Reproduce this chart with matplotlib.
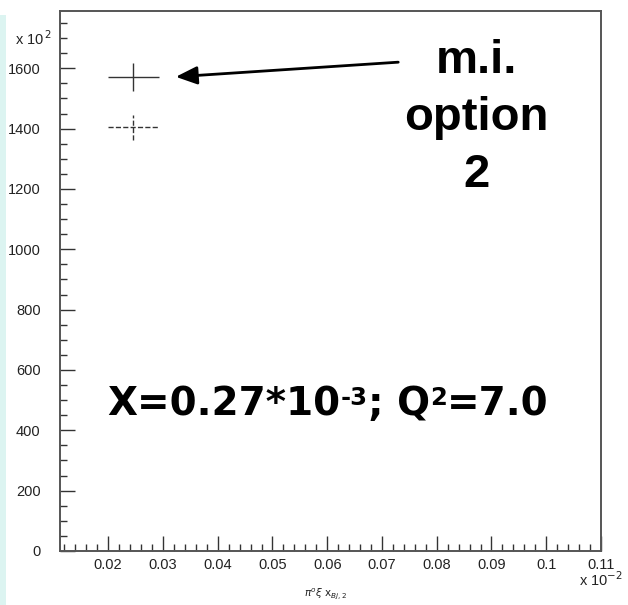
import matplotlib
matplotlib.use("Agg")
import matplotlib.pyplot as plt
from matplotlib.ticker import MultipleLocator, FixedLocator
import matplotlib.patches as mpatches

# data
x_vals = [0.0246, 0.0246]
x_err = [0.0046, 0.0046]
y_vals = [1570, 1404]
y_err = [46, 41]
line_styles = ["-", "--"]
xticks = [0.02, 0.03, 0.04, 0.05, 0.06, 0.07, 0.08, 0.09, 0.10, 0.11]
xtick_labels = ["0.02", "0.03", "0.04", "0.05", "0.06", "0.07", "0.08", "0.09", "0.1", "0.11"]
yticks = [0, 200, 400, 600, 800, 1000, 1200, 1400, 1600]
ytick_labels = [str(v) for v in yticks]
big_label_parts = [("X=0.27*10", False), ("-3", True), ("; Q", False), ("2", True), ("=7.0", False)]

plt.rcParams['font.family'] = ['Liberation Sans', 'DejaVu Sans']

W, H = 628, 605
fig = plt.figure(figsize=(W/100, H/100), dpi=100)
# left cyan strip
fig.patches.append(mpatches.Rectangle((0, 0), 6/W, 1 - 15/H, transform=fig.transFigure,
                                      facecolor='#dcf4f1', edgecolor='none', zorder=0))

ax = fig.add_axes([60/W, 1 - 551/H, (601-60)/W, (551-11)/H])
ax.set_xlim(0.0112, 0.11)
ax.set_ylim(0, 1790)

for xv, xe, yv, ye, ls in zip(x_vals, x_err, y_vals, y_err, line_styles):
    eb = ax.errorbar([xv], [yv], xerr=[xe], yerr=[ye], fmt='none', ecolor='#333333',
                     elinewidth=1.0, capsize=0)
    for lc in eb[2]:
        lc.set_linestyle(ls)

for s in ax.spines.values():
    s.set_color('#555555')
    s.set_linewidth(1.4)

ax.xaxis.set_major_locator(FixedLocator(xticks))
ax.set_xticklabels(xtick_labels)
ax.xaxis.set_minor_locator(MultipleLocator(0.002))
ax.yaxis.set_major_locator(FixedLocator(yticks))
ax.set_yticklabels(ytick_labels)
ax.yaxis.set_minor_locator(MultipleLocator(50))
ax.tick_params(which='both', direction='in', color='#333333', labelsize=10.5, labelcolor='#222222')
ax.tick_params(which='major', length=11, width=1.0)
ax.tick_params(which='minor', length=5, width=1.0)
ax.tick_params(axis='y', which='major', pad=14)
ax.tick_params(axis='x', which='major', pad=5)

# multipliers
fig.text(15/W, 1 - 39/H, r"x 10$^{\,2}$", fontsize=10.5, color='#222222', va='center', ha='left')
fig.text(579/W, 1 - 580/H, r"x 10$^{-2}$", fontsize=10.5, color='#222222', va='center', ha='left')

# axis label
fig.text(326/W, 1 - 594/H, r"$\pi^{o}\xi\ \mathrm{x}_{Bj,2}$", fontsize=7.5, color='#222222',
         ha='center', va='center')

# annotation
ax.annotate("", xy=(173/W, 1 - 77/H), xytext=(401/W, 1 - 62/H),
            xycoords='figure fraction', textcoords='figure fraction',
            arrowprops=dict(arrowstyle='-|>,head_length=1.3,head_width=0.55', color='black', lw=2.0))
fig.text(476/W, 1 - 118/H, "m.i.\noption\n2", fontsize=34, fontweight='bold',
         ha='center', va='center', linespacing=1.38)

# big label composed of pieces with real superscripts
fig.canvas.draw()
renderer = fig.canvas.get_renderer()
big_family = ['DejaVu Sans']
big_fs = 28
sup_fs = 17.5
baseline_px = 415
cap_top_px = baseline_px - 0.729 * big_fs * 100 / 72
texts = []
x_px = 0.0
for s, sup in big_label_parts:
    if sup:
        t = fig.text(x_px / W, 1 - (cap_top_px - 1) / H, s, fontsize=sup_fs, fontweight='bold',
                     family=big_family, ha='left', va='top')
    else:
        t = fig.text(x_px / W, 1 - baseline_px / H, s, fontsize=big_fs, fontweight='bold',
                     family=big_family, ha='left', va='baseline')
    bb = t.get_window_extent(renderer)
    x_px += bb.width
    texts.append(t)
total = x_px
start = 328 - total / 2
for t in texts:
    px, py = t.get_position()
    t.set_position((px + start / W, py))

fig.savefig("out.png", dpi=100)
